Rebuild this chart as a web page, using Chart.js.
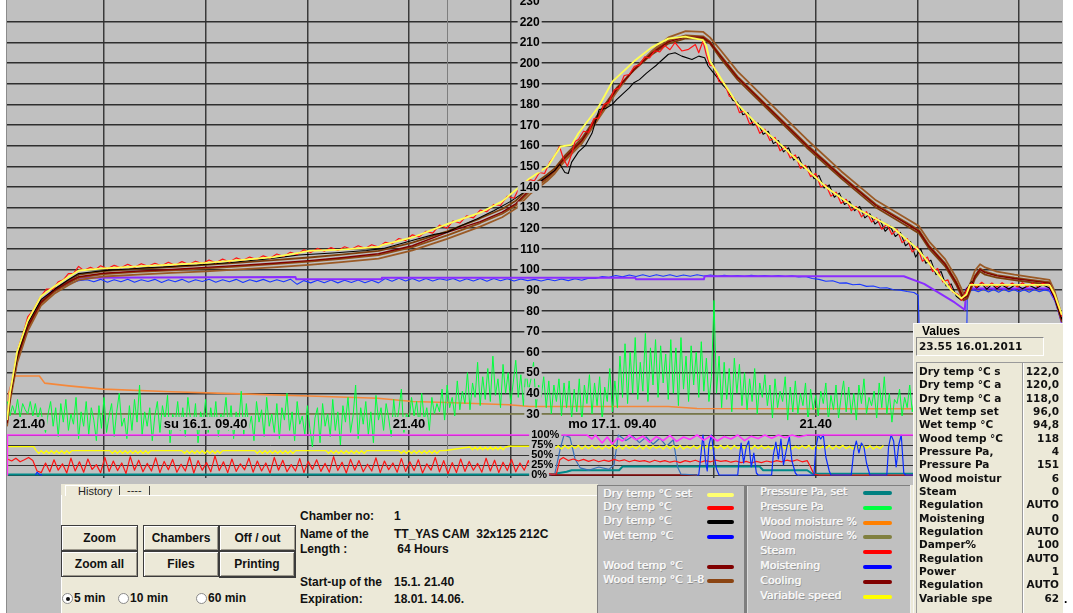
<!DOCTYPE html>
<html>
<head>
<meta charset="utf-8">
<title>Chamber 1 – drying history</title>
<script src="https://cdn.jsdelivr.net/npm/chart.js@4.4.1/dist/chart.umd.min.js"></script>
<style>
html,body{margin:0;padding:0}
body{width:1073px;height:613px;overflow:hidden;background:#fff;position:relative;font-family:"Liberation Sans",Arial,sans-serif;color:#000}
.abs{position:absolute;white-space:nowrap}
#frame{left:6px;top:0;width:1057px;height:613px;background:#c0c0c0;border-left:1px solid #8c8c8c;box-sizing:border-box}
#plot{position:absolute;left:7px;top:0}
#ctrl{left:61px;top:484px;width:537px;height:129px;background:#ece9d8}
.tabtxt{font:11px "Liberation Sans",Arial,sans-serif;line-height:12px;color:#222}
.btn{box-sizing:border-box;border:1px solid #3c3c3c;background:#ece9d8;box-shadow:inset 1px 1px 0 #fff,inset -1px -1px 0 #9d998c;font:bold 12px "Liberation Sans",Arial,sans-serif;display:flex;align-items:center;justify-content:center;color:#111}
.info{font:bold 12px "Liberation Sans",Arial,sans-serif;line-height:14px;color:#111}
.radio{width:11px;height:11px;border-radius:50%;background:#fff;border:1px solid #8a8a8a;box-sizing:border-box}
.radio.on::after{content:"";position:absolute;left:2.5px;top:2.5px;width:4px;height:4px;border-radius:50%;background:#111}
#legend{left:597px;top:485px;width:314px;height:128px;background:#c0c0c0;border-top:1px solid #808080;border-left:1px solid #808080;box-sizing:border-box}
.lg{font:11px "DejaVu Sans",Verdana,sans-serif;line-height:14px;color:#f7f7f7;text-shadow:0.45px 0 0 #f7f7f7,1px 1px 0 #8e8e8e}
.sw{height:4px;border-radius:2px}
#values{left:913px;top:323px;width:150px;height:290px;background:#ece9d8;border-top:1px solid #f8f8f8;border-left:1px solid #f8f8f8;box-sizing:border-box}
.vt{font:bold 10.5px "DejaVu Sans",Verdana,sans-serif;line-height:13.33px;color:#111}
</style>
</head>
<body>
<div id="frame" class="abs"></div>
<canvas id="plot" width="1055" height="478"></canvas>

<div id="ctrl" class="abs"></div>
<div class="abs" style="left:65px;top:485px;width:53px;height:10px;border-top:1px solid #fff;border-left:1px solid #fff"></div>
<div class="abs tabtxt" style="left:78px;top:485px">History</div>
<div class="abs" style="left:119px;top:486px;width:1px;height:9px;background:#404040"></div>
<div class="abs tabtxt" style="left:127px;top:484px">----</div>
<div class="abs" style="left:149px;top:486px;width:1px;height:9px;background:#404040"></div>
<div class="abs" style="left:119px;top:495px;width:479px;height:1px;background:#fff"></div>
<div class="abs" style="left:61px;top:495px;width:1px;height:118px;background:#fff"></div>

<div class="abs btn" style="left:61px;top:525px;width:77px;height:26px">Zoom</div>
<div class="abs btn" style="left:61px;top:551px;width:77px;height:26px">Zoom all</div>
<div class="abs btn" style="left:143px;top:525px;width:76px;height:26px">Chambers</div>
<div class="abs btn" style="left:219px;top:525px;width:77px;height:26px">Off / out</div>
<div class="abs btn" style="left:143px;top:551px;width:76px;height:26px">Files</div>
<div class="abs btn" style="left:219px;top:551px;width:77px;height:27px;border-width:1px 2px 2px 1px">Printing</div>

<div class="abs radio on" style="left:62px;top:593px"></div>
<div class="abs info" style="left:74px;top:591px">5 min</div>
<div class="abs radio" style="left:118px;top:593px"></div>
<div class="abs info" style="left:130px;top:591px">10 min</div>
<div class="abs radio" style="left:196px;top:593px"></div>
<div class="abs info" style="left:208px;top:591px">60 min</div>

<div id="infoBox"></div>

<div id="legend" class="abs"></div>
<div class="abs" style="left:744px;top:486px;width:3px;height:127px;background:#7e7e7e"></div>
<div class="abs" style="left:747px;top:486px;width:1px;height:127px;background:#dcdcdc"></div>
<div class="abs" style="left:910px;top:485px;width:1px;height:128px;background:#f0f0f0"></div>
<div class="abs" style="left:911px;top:485px;width:2px;height:128px;background:#ece9d8"></div>
<div id="legendItems"></div>

<div id="values" class="abs"></div>
<div class="abs" style="left:922px;top:324px;font:bold 12px 'Liberation Sans',Arial,sans-serif;line-height:14px">Values</div>
<div class="abs" style="left:916px;top:337px;width:128px;height:19px;box-sizing:border-box;border:1px solid;border-color:#8a8a8a #fff #fff #8a8a8a"></div>
<div class="abs vt" style="left:919px;top:339px;line-height:14px" id="stamp"></div>
<div class="abs" style="left:916px;top:362px;width:106px;height:251px;box-sizing:border-box;border-top:1px solid #9a9a9a;border-left:1px solid #9a9a9a"></div>
<div class="abs" style="left:1022px;top:362px;width:41px;height:251px;box-sizing:border-box;border-top:1px solid #9a9a9a;border-left:1px solid #9a9a9a;box-shadow:inset 1px 0 0 #fff"></div>
<div class="abs vt" style="left:919px;top:365px" id="valLabels"></div>
<div class="abs vt" style="left:1000px;top:365px;width:59px;text-align:right" id="valNums"></div>
<div class="abs" style="left:1064px;top:592px;font:bold 12px 'Liberation Sans',Arial,sans-serif">.</div>

<script>
// ---- axes: hours since start-up (15.1. 21.40) -------------------------
const hourMin = 0.276, hourMax = 62.537;
const gridHours = [6, 12, 18, 24, 30, 36, 42, 48, 54, 60];
const axisHour = 30;
const cursorHour = 26.25;
const timeLabelHours = [0, 12, 24, 36, 48, 60];
const timeLabels = ['21.40', 'su 16.1. 09.40', '21.40', 'mo 17.1. 09.40', '21.40', 'tu 18.1. 09.40'];
const tempMin = -1.07, tempMax = 230.6;
const tempTicks = [30, 40, 50, 60, 70, 80, 90, 100, 110, 120, 130, 140, 150, 160, 170, 180, 190, 200, 210, 220, 230];
const pctMin = -7.5, pctMax = 1187.5;
const pctTicks = [0, 25, 50, 75, 100];

// ---- temperatures [hour, °C] -------------------------------------------
const dryTempSet = [[0.28,27],[0.45,40],[0.87,60],[1.49,75],[2.28,87],[3.11,92],[3.92,96.5],[4.52,99.5],[6,100.5],[8,101.5],[10,102.3],[12,103.2],[14,104.5],[16,106],[17.5,108],[18.1,109],[20,109.6],[22.2,110.9],[22.4,111.8],[24.2,115.5],[26.25,122],[28.2,127.5],[29.5,133],[30.3,138.5],[31.1,144],[32.2,150],[32.95,159.6],[33.6,160.4],[34.0,166],[35.2,179],[36.0,191],[37.3,201],[38.3,207.5],[39.3,211.9],[40.3,212.9],[41.35,211.2],[41.55,208.3],[41.76,201],[42.6,190],[43.4,180],[44.6,170],[46.0,160],[47.3,150],[48.6,140],[50.3,130],[52.6,120],[54.0,110],[55.0,100],[56.0,90],[56.6,86],[56.9,88],[57.1,92.5],[61.8,92.5],[62.1,88],[62.53,78]];

const dryTempA = [[0.28,27],[0.5,42],[0.9,61],[1.3,71],[1.5,77],[1.8,80],[2.2,86],[2.6,90.5],[3.0,90.5],[3.3,94],[3.6,95],[3.9,98],[4.2,98],[4.5,101.5],[4.8,99.5],[5.2,101],[5.5,100],[5.8,101.8],[6.2,100.3],[6.6,102],[7.0,100.8],[7.4,102.5],[7.8,101],[8.2,102.8],[8.6,101.5],[9.0,103],[9.4,101.8],[9.8,103.5],[10.2,102],[10.6,103.8],[11.0,102.4],[11.4,104],[11.8,102.8],[12.2,104.6],[12.6,103.2],[13.0,105],[13.4,103.6],[13.8,105.6],[14.2,104.4],[14.6,106],[15.0,104.8],[15.4,106.6],[15.8,105.4],[16.2,107.5],[16.6,106.3],[17.0,108.3],[17.4,107.2],[17.8,109.5],[18.2,108.2],[18.6,110.2],[19.0,108.8],[19.4,110.6],[19.8,109.2],[20.2,111],[20.6,109.8],[21.0,111.5],[21.4,110.2],[21.8,112],[22.2,110.8],[22.6,113.2],[23.0,112.5],[23.4,115],[23.8,114],[24.2,116.8],[24.6,115.8],[25.0,118.5],[25.4,117.6],[25.8,121.5],[26.25,120],[26.6,123.5],[27.0,122.5],[27.4,126],[27.8,125],[28.2,128.8],[28.6,128],[29.0,131.5],[29.4,131],[29.8,135.5],[30.2,134.5],[30.5,139.5],[30.8,138.5],[31.1,143.5],[31.4,143],[31.7,147],[32.0,146.5],[32.3,152],[32.6,155],[32.88,159.6],[33.1,154],[33.35,150],[33.6,156],[33.8,162],[34.0,163],[34.3,167],[34.6,166.5],[34.9,173],[35.2,173.5],[35.5,180],[35.8,181],[36.1,187],[36.4,188],[36.7,194],[37.0,194.5],[37.3,198.5],[37.6,199],[37.9,203],[38.2,202.5],[38.5,206],[38.8,205.5],[39.1,208.5],[39.4,206.5],[39.7,210],[40.1,205.9],[40.5,206.7],[40.9,209],[41.1,205],[41.35,210.7],[41.55,204],[41.76,199],[42.0,198.5],[42.3,191],[42.6,190.5],[42.9,184],[43.2,183],[43.5,176],[43.8,177],[44.1,170.5],[44.4,172],[44.7,166],[45.0,168],[45.3,162.5],[45.6,164],[45.9,157.5],[46.2,159.5],[46.5,154],[46.8,155.5],[47.1,149],[47.4,150.5],[47.7,145],[48.0,146.5],[48.3,140],[48.6,141],[48.9,135.5],[49.2,137.5],[49.5,132],[49.8,134],[50.1,128.5],[50.4,130.5],[50.7,125.5],[51.0,128],[51.3,123],[51.6,125],[51.9,119.5],[52.2,122],[52.5,117],[52.8,119.5],[53.1,113],[53.4,115],[53.7,108.5],[54.0,111],[54.3,104],[54.6,106],[54.9,99],[55.2,100.5],[55.5,94],[55.8,95],[56.1,89],[56.4,88],[56.6,85],[56.9,90],[57.2,93.5],[57.5,91.5],[57.8,93.8],[58.1,91.8],[58.4,93.5],[58.7,91.5],[59.0,93.6],[59.3,91.7],[59.6,93.4],[59.9,91.5],[60.2,93.6],[60.5,91.6],[60.8,93.4],[61.1,91.7],[61.4,93.3],[61.8,92],[62.1,87],[62.53,77]];

const dryTempB = [[0.28,27],[0.5,41],[0.9,59],[1.5,74],[2.3,85.5],[3.1,90.5],[3.9,95],[4.5,98],[5.5,99],[6.5,99.8],[7.5,100.2],[8.5,100.8],[9.5,101.2],[10.5,101.8],[11.5,102.2],[12.5,102.8],[13.5,103.4],[14.5,104.2],[15.5,105],[16.5,106],[17.5,107],[18.5,107.5],[19.5,108],[20.5,108.6],[21.5,109.2],[22.5,110.2],[23.5,112.5],[24.5,114.8],[25.5,117],[26.25,118],[27.0,121],[28.0,124.5],[29.0,128.5],[30.0,133],[30.8,137.5],[31.4,141.5],[31.8,143],[32.2,145.5],[32.6,148],[32.9,151],[33.2,147],[33.4,146.5],[33.6,152],[34.0,157],[34.4,160],[34.8,166],[35.22,177.5],[35.6,178],[36.0,180],[36.25,182.3],[36.6,185],[37.0,188],[37.27,190.5],[37.6,192],[38.0,195],[38.29,197],[38.6,199],[39.0,202],[39.31,204.3],[39.7,205],[40.1,203.4],[40.7,201.8],[41.1,203.4],[41.45,202.6],[41.65,198.6],[41.9,196],[42.2,193],[42.5,189.5],[42.8,187],[43.1,182],[43.4,181],[43.7,175],[44.0,176],[44.3,170],[44.6,171],[44.9,165.5],[45.2,167],[45.5,161],[45.8,162.5],[46.1,157],[46.4,159],[46.7,153],[47.0,154.5],[47.3,149],[47.6,150],[47.9,144],[48.2,145.5],[48.5,139.5],[48.8,141],[49.1,135],[49.4,137],[49.7,131.5],[50.0,133],[50.3,128.5],[50.6,130.5],[50.9,125],[51.2,127],[51.5,122],[51.8,124],[52.1,118.5],[52.4,121],[52.7,116],[53.0,118],[53.3,111.5],[53.6,113.5],[53.9,106],[54.2,110],[54.5,103],[54.8,104.5],[55.1,97.5],[55.4,99],[55.7,92],[56.0,93],[56.3,87],[56.6,85],[56.9,90.5],[57.2,94],[57.5,91],[57.8,93],[58.1,90.5],[58.4,92.8],[58.7,90.6],[59.0,92.5],[59.4,90.5],[59.8,92.7],[60.2,90.7],[60.6,92.4],[61.0,90.8],[61.4,92.6],[61.8,91],[62.1,86],[62.53,76]];

const wetTemp = [[0.28,27],[0.5,40],[0.9,59],[1.5,73],[2.3,84],[3.1,89.5],[3.9,93],[4.5,94.5],[5.0,95],[5.4,94],[5.8,95.2],[6.2,93.8],[6.6,95],[7.0,94],[7.4,95.3],[7.8,93.8],[8.2,95],[8.6,94.2],[9.0,95.2],[9.4,93.7],[9.8,95],[10.2,94],[10.6,95.2],[11.0,93.8],[11.4,95],[11.8,94.2],[12.2,95.3],[12.6,93.8],[13.0,95],[13.4,94],[13.8,95.2],[14.2,93.7],[14.6,95],[15.0,94.1],[15.4,95.2],[15.8,93.9],[16.2,95],[16.6,94],[17.0,95.3],[17.4,92.8],[17.8,94.6],[18.2,93.5],[18.6,94.8],[19.0,93.6],[19.4,94.9],[19.8,93.5],[20.2,94.8],[20.6,93.7],[21.0,94.9],[21.4,93.6],[21.8,94.8],[22.2,93.5],[22.6,95.6],[23.0,94.3],[23.4,95.7],[23.8,94.4],[24.2,95.6],[24.6,94.3],[25.0,95.6],[25.4,94.4],[25.8,95.5],[26.25,94.8],[26.6,95.6],[27.0,94.3],[27.4,95.5],[27.8,94.4],[28.2,95.6],[28.6,94.3],[29.0,95.6],[29.4,94.5],[29.8,95.5],[30.2,94.4],[30.6,95.4],[31.0,94.6],[31.4,95.2],[31.8,94.4],[32.2,95.3],[32.6,94.5],[33.0,95.4],[33.4,94.6],[33.8,95.5],[34.2,94.8],[34.6,95.8],[35.0,95.6],[35.4,96.6],[35.8,96.2],[36.2,97.1],[36.6,96.4],[37.0,97.3],[37.4,96.6],[37.8,97.4],[38.2,96.6],[38.6,97.4],[39.0,96.7],[39.4,97.4],[39.8,96.6],[40.2,97.3],[40.6,96.7],[41.0,97.4],[41.4,96.8],[41.8,97.3],[42.2,96.7],[42.6,97.2],[43.0,96.8],[43.4,97.1],[43.8,96.7],[44.2,97.2],[44.6,96.8],[45.0,97.1],[45.4,96.7],[45.8,97.0],[46.2,96.6],[46.6,96.9],[47.0,96.4],[47.4,96.6],[47.8,95.6],[48.2,95.2],[48.6,94.3],[49.0,94.5],[49.4,93.4],[49.8,93.5],[50.2,92.6],[50.6,92.8],[51.0,91.8],[51.4,92.0],[51.8,91.0],[52.2,91.1],[52.6,90.2],[53.0,90.0],[53.4,89.3],[53.8,88.8],[54.05,87.5],[54.15,60],[54.3,30],[56.85,30],[56.95,89],[57.3,90.2],[57.6,89.2],[57.9,90.4],[58.2,89.1],[58.5,90.3],[58.8,89.0],[59.1,90.4],[59.4,89.2],[59.7,90.3],[60.0,89.1],[60.3,90.2],[60.6,89.0],[60.9,90.3],[61.2,89.2],[61.5,90.1],[61.8,89.5],[62.1,85],[62.53,74]];

const wetTempSet = [[0.28,27],[0.45,40],[0.87,59],[1.49,74],[2.28,85],[3.11,90.5],[3.92,94.5],[4.52,96],[17.3,96.3],[17.35,95.2],[22.35,95.2],[22.4,96.0],[37.35,96.0],[37.4,95.2],[41.4,95.2],[41.45,96.7],[53.2,96.7],[54.4,93],[55.4,88],[56.2,84],[56.8,80.5],[56.9,90.8],[61.8,90.8],[62.2,84],[62.53,74]];

const woodTemp1 = [[0.28,25],[0.45,37],[0.87,56],[1.49,71],[2.28,83.5],[3.11,89.5],[3.92,93.5],[4.52,96],[6,97.8],[8,98.8],[10,99.6],[12,100.5],[14,101.5],[16,102.6],[18.1,103.8],[20,105.2],[22.2,107],[24.2,110.8],[26.25,116.5],[28.2,122.5],[29.5,127],[30.3,131],[31.14,138],[32.16,144],[32.6,147.5],[33.18,153.5],[34.2,162],[35.22,174.5],[36.25,187],[37.27,197],[38.29,205],[39.31,211],[40.33,213.5],[41.35,213],[41.76,210.5],[42.37,204],[43.39,193.5],[45.43,177],[47.48,160.5],[49.52,145.5],[51.56,131.5],[53.6,121.5],[54.1,119],[54.7,111.5],[55.64,103],[56.3,94],[56.72,86.5],[56.95,87.5],[57.4,97],[57.7,100.5],[58.0,99],[58.7,97.3],[59.73,96],[60.7,95],[61.8,93.8],[62.1,88],[62.53,76]];

const woodTemp2 = [[0.28,24],[0.45,36],[0.87,54.5],[1.49,70],[2.28,82.5],[3.11,88.5],[3.92,92.5],[4.52,95],[6,96.6],[8,97.5],[10,98.3],[12,99.1],[14,100],[16,101],[18.1,102.2],[20,103.6],[22.2,105.3],[24.2,109.3],[26.25,114.8],[28.2,120.8],[29.5,125.3],[30.3,129.5],[31.14,136.5],[32.16,143],[32.6,146.5],[33.18,152.5],[34.2,161],[35.22,173.5],[36.25,186],[37.27,197],[38.29,205.5],[39.31,212.5],[40.33,215.5],[41.35,215.2],[41.76,212.5],[42.37,206.5],[43.39,196],[45.43,179.5],[47.48,163],[49.52,147.5],[51.56,133.5],[53.6,123.5],[54.1,121],[54.7,113.5],[55.64,105],[56.3,96],[56.72,88.5],[56.95,89.5],[57.4,99.5],[57.7,102.5],[58.0,101],[58.7,99],[59.73,97.5],[60.7,96.3],[61.8,95],[62.1,89.5],[62.53,77.5]];

const woodTemp3 = [[0.28,26],[0.45,38.5],[0.87,57.5],[1.49,72.5],[2.28,84.5],[3.11,90.5],[3.92,94.8],[4.52,97.5],[6,99.2],[8,100.3],[10,101.2],[12,102.2],[14,103.3],[16,104.5],[18.1,105.8],[20,107.2],[22.2,109],[24.2,113],[26.25,118.5],[28.2,124.8],[29.5,129.3],[30.3,133.3],[31.14,140],[32.16,146],[32.6,149],[33.18,155],[34.2,163.5],[35.22,176],[36.25,188],[37.27,196.5],[38.29,204],[39.31,209.5],[40.33,212],[41.35,211.8],[41.76,209.5],[42.37,202.5],[43.39,192],[45.43,175.5],[47.48,159],[49.52,144],[51.56,130],[53.6,120],[54.1,117.5],[54.7,110],[55.64,101.5],[56.3,92.5],[56.72,85],[56.95,86],[57.4,95.5],[57.7,99],[58.0,97.5],[58.7,96],[59.73,94.8],[60.7,93.8],[61.8,92.6],[62.1,86.5],[62.53,74.5]];

const woodTemp = [[0.28,25.5],[0.45,37.5],[0.87,57],[1.49,72],[2.28,84],[3.11,90],[3.92,94],[4.52,96.5],[6,98.2],[8,99.2],[10,100],[12,101],[14,102],[16,103],[18.1,104.3],[20,105.7],[22.2,107.6],[24.2,111.5],[26.25,118],[28.2,123.2],[29.5,127.8],[30.3,131.8],[31.14,138.8],[32.16,144.8],[32.6,148],[33.18,154],[34.2,162.5],[35.22,175],[36.25,187.2],[37.27,196.8],[38.29,204.6],[39.31,210.3],[40.33,212.8],[41.35,212.5],[41.76,210],[42.37,203.5],[43.39,193],[45.43,176.5],[47.48,160],[49.52,145],[51.56,131],[53.6,121],[54.1,118.5],[54.7,111],[55.64,102.5],[56.3,93.5],[56.72,86],[56.95,87],[57.4,96.5],[57.7,100],[58.0,98.5],[58.7,96.9],[59.73,95.6],[60.7,94.6],[61.8,93.4],[62.1,87.5],[62.53,75.5]];

// ---- moisture and pressure, drawn on the temperature scale ------------
const woodMoisture = [[0.28,27],[0.37,40],[0.67,48.4],[2.19,48.4],[2.5,44.9],[3.92,43.6],[5.94,42],[10,40.7],[14.06,39.7],[18.1,38.7],[22.17,37.6],[24.2,36],[26.22,35.5],[29.88,34.4],[31.14,33.6],[39.3,33.6],[41,32.6],[53.6,32.5],[56,33.2],[62.53,33]];
const woodMoisture2 = [[0.28,30],[62.53,30]];

// pressure logged every 0.15 h from 0.3 h
const pressureStart = 0.3, pressureStep = 0.15;
const pressure = [
  36,29,34,30,37,28,35,32,30,36, 29,35,27,33,26,21,30,36,24,33,
  19,35,26,37,22,30,25,38,18,31, 24,36,20,33,27,17,34,23,38,21,
  29,35,19,31,40,24,28,18,34,22, 37,26,44,20,31,24,33,17,29,36,
  21,34,27,39,16,30,25,36,22,33, 19,38,28,23,35,16,31,26,37,21,
  33,24,36,19,30,27,38,22,34,18, 31,25,41,20,35,23,29,17,36,26,
  32,19,38,24,30,21,35,18,33,27, 40,22,31,17,36,25,29,20,34,23,
  14,28,33,16,35,24,30,19,37,22, 31,15,34,26,38,21,29,44,18,33,
  25,36,20,31,16,39,27,33,22,35, 28,19,37,24,32,42,21,30,26,38,
  29,36,24,40,27,33,22,38,30,35, 31,42,27,44,33,38,29,46,32,41,
  35,50,32,45,38,55,34,48,37,52, 36,58,39,47,33,54,40,50,35,45,
  56,38,49,34,52,41,47,55,33,44, 38,48,33,46,30,44,36,47,29,45,
  33,46,28,42,31,47,26,44,35,49, 30,45,34,48,27,43,36,52,31,46,
  33,58,38,64,35,60,40,67,37,55, 41,69,36,62,44,66,38,63,45,59,
  37,66,40,62,34,67,42,58,36,63, 44,60,38,65,41,57,36,48,85,40,
  58,33,55,37,52,31,57,40,54,34, 50,32,47,36,52,30,45,38,49,34,
  44,28,47,33,41,36,48,27,43,31, 46,30,40,34,45,26,42,32,39,29,
  41,35,45,27,39,32,44,28,38,46, 31,43,30,40,27,44,35,47,30,38,
  34,41,28,45,33,48,30,40,26,37, 35,42,29,38,33,44,31,39,27,41];

// ---- actuator channels [hour, %] --------------------------------------
const pressureSet = [[0.28,1],[32.1,1],[32.6,3],[33.3,8],[33.6,12],[36.4,12],[36.6,21],[44.7,21],[44.9,12],[47.5,12],[47.8,3],[54.5,3]];
const cooling = [[32.1,0],[41.0,0]];
const auxChannel = [[32.2,0],[32.6,2],[32.95,70],[33.15,100],[33.5,94],[33.8,40],[34.1,18],[34.6,12],[35.2,20],[35.8,14],[36.1,25],[36.35,100],[36.8,86],[37.2,97],[37.6,81],[38.0,95],[38.4,77],[38.8,92],[39.2,72],[39.6,88],[39.85,20],[40.05,2],[41.0,0]];

// steam, logged every 0.25 h from 0.3 h, then the later run
const steamStart = 0.3, steamStep = 0.25;
const steamEarly = [
  40,35,42,33,38,44,36,10,6,30, 8,38,12,28,5,42,10,33,7,40,
  14,26,6,44,9,35,11,30,4,46, 12,37,8,29,10,43,6,34,13,39,
  7,27,10,45,5,36,12,31,8,48, 11,33,6,40,9,28,13,42,7,35,
  10,30,5,44,12,37,8,26,10,41, 6,34,14,38,9,29,7,46,11,32,
  5,39,12,36,8,27,10,43,6,35, 13,30,7,41,9,33,11,38,5,28,
  12,44,8,36,3,31,6,40,9,34, 12,29,7,42,10,37,6,32,11,39,
  8,30,12,36,7,41,10,33];
const steamLate = [[32.1,5],[32.4,2],[32.7,3],[32.9,38],[33.1,44],[33.4,36],[33.7,40],[34.0,35],[34.3,39],[34.6,34],[34.9,38],[35.2,33],[35.5,37],[35.8,34],[36.1,39],[36.4,35],[36.7,38],[37.0,33],[37.3,37],[37.6,34],[37.9,36],[38.2,32],[38.5,37],[38.8,33],[39.1,36],[39.4,32],[39.7,35],[40.0,31],[40.3,36],[40.6,33],[40.9,37],[41.2,32],[41.5,36],[41.8,33],[42.1,37],[42.4,34],[42.7,36],[43.0,32],[43.3,35],[43.6,31],[43.9,34],[44.2,30],[44.5,34],[44.8,31],[45.1,35],[45.4,32],[45.7,36],[46.0,33],[46.3,37],[46.6,34],[46.9,38],[47.2,33],[47.5,36],[47.7,20],[47.9,2],[48.2,0],[54.5,0]];

const speedEarly = [[0.28,0],[0.3,71],[1.85,71],[2.0,61],
  [2.15,54],[2.3,61],[2.45,54],[2.6,61],[2.75,54],[2.9,61],[3.05,54],[3.2,61],[3.35,54],[3.5,61],[3.65,54],[3.8,61],[3.95,54],[4.1,61],
  [6.35,61],[6.5,54],[6.65,61],[6.8,54],[6.95,61],[7.1,54],[7.25,61],[7.4,54],[7.55,61],[7.7,54],[7.85,61],[8.0,54],[8.15,61],[8.3,54],[8.45,61],[8.6,54],[8.75,61],
  [10.6,61],[10.75,54],[10.9,61],[11.05,54],[11.2,61],[11.35,54],[11.5,61],[11.65,54],[11.8,61],[11.95,54],[12.1,61],[12.25,54],[12.4,61],[12.55,54],[12.7,61],[12.85,54],[13.0,61],
  [14.9,61],[15.05,54],[15.2,61],[15.35,54],[15.5,61],[15.65,54],[15.8,61],[15.95,54],[16.1,61],[16.25,54],[16.4,61],[16.55,54],[16.7,61],[16.85,54],[17.0,61],[17.15,54],[17.3,61],
  [19.1,61],[19.25,54],[19.4,61],[19.55,54],[19.7,61],[19.85,54],[20.0,61],[20.15,54],[20.3,61],[20.45,54],[20.6,61],[20.75,54],[20.9,61],[21.05,54],[21.2,61],[21.35,54],[21.5,61],
  [23.4,61],[23.55,54],[23.7,61],[23.85,54],[24.0,61],[24.15,54],[24.3,61],[24.45,54],[24.6,61],[24.75,54],[24.9,61],[25.05,54],[25.2,61],[25.35,54],[25.5,61],[25.65,54],[25.8,61],
  [26.0,61],[26.25,62],[27.6,70],[27.75,63],[27.9,70],[28.05,63],[28.2,70],[28.35,63],[28.5,70],[28.65,63],[28.8,70],[28.95,63],[29.1,70],[29.25,63],[29.4,70],[29.55,63],[29.7,70],[29.9,72],[32.0,72]];

// variable speed, logged every 0.2 h from 32 h
const speedStart = 32.0, speedStep = 0.2;
const speedLate = [
  72,72,72,66,73,65,74,66,73,67, 74,65,73,66,74,66,72,65,73,67,
  74,66,73,65,74,67,72,66,73,65, 74,66,73,67,72,65,74,66,73,66,
  74,65,72,67,73,66,74,65,73,66, 72,67,74,66,73,65,74,66,72,67,
  73,65,74,66,73,66,72,65,74,67, 73,66,74,65,72,66,73,67,74,65,
  73,66,72,66,74,65,73,67,74,66, 72,65,73,66,74,67,73,65,72,66,
  74];

const moistening = [[1.95,0],[2.05,7],[2.2,1],[2.35,0],[2.4,null],[41.0,0],[41.1,0],[41.25,60],[41.35,100],[41.5,35],[41.6,10],[41.7,75],[41.85,100],[42.0,50],[42.15,15],[42.3,0],[43.4,0],[43.5,45],[43.6,80],[43.75,30],[43.9,70],[44.05,85],[44.2,20],[44.35,55],[44.5,5],[44.6,0],[45.4,0],[45.5,50],[45.65,82],[45.8,40],[45.95,90],[46.1,25],[46.3,70],[46.45,95],[46.6,35],[46.8,5],[46.9,0],[47.9,0],[48.0,65],[48.15,100],[48.3,90],[48.45,100],[48.6,45],[48.8,10],[48.9,0],[50.1,0],[50.25,60],[50.4,85],[50.55,55],[50.7,80],[50.85,70],[51.0,30],[51.2,0],[52.2,0],[52.3,70],[52.45,100],[52.6,85],[52.75,20],[52.9,75],[53.05,100],[53.2,5],[53.3,0],[54.5,0]];

const damper = [[0.28,0],[0.3,100],[34.5,100],[34.8,90],[35.0,100],[35.4,80],[35.7,95],[36.0,78],[36.3,92],[36.6,85],[37.0,100],[37.4,88],[37.8,97],[38.2,82],[38.6,96],[39.0,86],[39.4,99],[39.8,84],[40.2,95],[40.6,89],[41.0,100],[41.4,87],[41.8,98],[42.2,85],[42.6,96],[43.0,90],[43.4,100],[43.8,86],[44.2,97],[44.6,91],[45.0,100],[45.4,92],[45.8,100],[46.2,93],[46.6,100],[47.0,95],[47.5,100],[54.5,100]];

// ---- side panels -------------------------------------------------------
const infoLabels = ['Chamber no:', 'Name of the', 'Length :', 'Start-up of the', 'Expiration:'];
const infoValues = ['1', 'TT_YAS CAM  32x125 212C', ' 64 Hours', '15.1. 21.40', '18.01. 14.06.'];
const legendLeft = ['Dry temp °C set', 'Dry temp °C', 'Dry temp °C', 'Wet temp °C', '', 'Wood temp °C', 'Wood temp °C 1-8'];
const legendRight = ['Pressure Pa, set', 'Pressure Pa', 'Wood moisture %', 'Wood moisture %', 'Steam', 'Moistening', 'Cooling', 'Variable speed'];
const cursorStamp = '23.55 16.01.2011';
const readingNames = ['Dry temp °C s', 'Dry temp °C a', 'Dry temp °C a', 'Wet temp set', 'Wet temp °C', 'Wood temp °C', 'Pressure Pa,', 'Pressure Pa', 'Wood moistur', 'Steam', 'Regulation', 'Moistening', 'Regulation', 'Damper%', 'Regulation', 'Power', 'Regulation', 'Variable spe'];
const readingValues = ['122,0', '120,0', '118,0', '96,0', '94,8', '118', '4', '151', '6', '0', 'AUTO', '0', 'AUTO', '100', 'AUTO', '1', 'AUTO', '62'];

// ---- colours -----------------------------------------------------------
const C = {
  dryTempSet: '#ffff52', dryTempA: '#ff1414', dryTempB: '#000000', wetTemp: '#1a38ff', wetTempSet: '#8a2cff',
  woodTemp: '#800000', wood: ['#8f4c14', '#9a5a26', '#7c3f0c'], pressureSet: '#008a8a', pressure: '#00ff3c',
  woodMoist: '#f5883a', woodMoist2: '#8e8e58', steam: '#ff1414', moisten: '#0a2cff', cooling: '#800000',
  speed: '#ffff00', damper: '#ff33ff', aux: '#3a70b8'
};
const legendLeftColors = ['#ffff70', '#ff0000', '#000000', '#0000ff', null, '#800000', '#8b4513'];
const legendRightColors = ['#008080', '#00ff40', '#ff8000', '#808040', '#ff0000', '#0000ff', '#800000', '#ffff00'];

// ---- build panels ------------------------------------------------------
(function buildPanels() {
  const info = document.getElementById('infoBox');
  const infoTops = [509, 527, 542, 575, 592];
  infoLabels.forEach((t, i) => {
    info.insertAdjacentHTML('beforeend',
      `<div class="abs info" style="left:300px;top:${infoTops[i]}px">${t}</div>` +
      `<div class="abs info" style="left:394px;top:${infoTops[i]}px;white-space:pre">${infoValues[i]}</div>`);
  });
  const lg = document.getElementById('legendItems');
  const leftRows = [487, 500, 514, 529, 544, 559, 573];
  legendLeft.forEach((t, i) => {
    if (!t) return;
    lg.insertAdjacentHTML('beforeend',
      `<div class="abs lg" style="left:603px;top:${leftRows[i]}px">${t}</div>` +
      `<div class="abs sw" style="left:707px;top:${leftRows[i] + 6}px;width:27px;background:${legendLeftColors[i]}"></div>`);
  });
  legendRight.forEach((t, i) => {
    const top = 485 + i * 14.8;
    lg.insertAdjacentHTML('beforeend',
      `<div class="abs lg" style="left:760px;top:${top}px">${t}</div>` +
      `<div class="abs sw" style="left:863px;top:${top + 6}px;width:29px;background:${legendRightColors[i]}"></div>`);
  });
  document.getElementById('stamp').textContent = cursorStamp;
  document.getElementById('valLabels').innerHTML = readingNames.join('<br>');
  document.getElementById('valNums').innerHTML = readingValues.join('<br>');
})();

// ---- chart -------------------------------------------------------------
const pts = a => a.map(([x, y]) => ({x, y}));
const sampled = (t0, dt, vals) => vals.map((y, i) => ({x: +(t0 + i * dt).toFixed(3), y}));
const series = (data, color, width, axis) => ({
  data, borderColor: color, borderWidth: width, yAxisID: axis,
  pointRadius: 0, tension: 0, fill: false, borderJoinStyle: 'round', spanGaps: false
});

// listed from bottom to top
const layers = [
  series(pts(woodMoisture2), C.woodMoist2, 1.5, 'temp'),
  series(pts(woodMoisture), C.woodMoist, 1.6, 'temp'),
  series(sampled(pressureStart, pressureStep, pressure), C.pressure, 1, 'temp'),
  series(pts(pressureSet), C.pressureSet, 2, 'pct'),
  series(pts(cooling), C.cooling, 1.5, 'pct'),
  series(pts(auxChannel), C.aux, 1.2, 'pct'),
  series(sampled(steamStart, steamStep, steamEarly), C.steam, 1.2, 'pct'),
  series(pts(steamLate), C.steam, 1.2, 'pct'),
  series(pts(speedEarly), C.speed, 1.4, 'pct'),
  series(sampled(speedStart, speedStep, speedLate), C.speed, 1.4, 'pct'),
  series(pts(moistening), C.moisten, 1.2, 'pct'),
  series(pts(damper), C.damper, 1.6, 'pct'),
  series(pts(wetTemp), C.wetTemp, 1.1, 'temp'),
  series(pts(wetTempSet), C.wetTempSet, 2, 'temp'),
  series(pts(woodTemp1), C.wood[0], 1.8, 'temp'),
  series(pts(woodTemp2), C.wood[1], 1.8, 'temp'),
  series(pts(woodTemp3), C.wood[2], 1.8, 'temp'),
  series(pts(woodTemp), C.woodTemp, 1.4, 'temp'),
  series(pts(dryTempB), C.dryTempB, 1.1, 'temp'),
  series(pts(dryTempA), C.dryTempA, 1.2, 'temp'),
  series(pts(dryTempSet), C.dryTempSet, 1.8, 'temp')
];

const BG = '#c0c0c0';
function labelBox(ctx, text, x, y, align, h) {
  const w = ctx.measureText(text).width;
  const left = align === 'right' ? x - w : align === 'center' ? x - w / 2 : x;
  ctx.fillStyle = BG;
  ctx.fillRect(left - 2, y - h / 2, w + 4, h);
}

const overlay = {
  id: 'overlay',
  beforeDatasetsDraw(chart) {
    const {ctx, chartArea, scales: {x}} = chart;
    const cx = Math.round(x.getPixelForValue(cursorHour)) + 0.5;
    ctx.save();
    ctx.strokeStyle = '#7e7e7e';
    ctx.lineWidth = 1;
    ctx.beginPath();
    ctx.moveTo(cx, chartArea.top);
    ctx.lineTo(cx, chartArea.bottom);
    ctx.stroke();
    ctx.restore();
  },
  afterDatasetsDraw(chart) {
    const {ctx, chartArea, scales: {x, temp, pct}} = chart;
    const ax = x.getPixelForValue(axisHour);
    ctx.save();
    ctx.textBaseline = 'middle';

    // temperature labels beside the central axis
    ctx.font = 'bold 12px "Liberation Sans", Arial, sans-serif';
    temp.ticks.forEach(t => {
      const y = temp.getPixelForValue(t.value);
      const s = String(t.value);
      labelBox(ctx, s, ax + 29, y, 'right', 12);
      ctx.fillStyle = '#000';
      ctx.textAlign = 'right';
      ctx.fillText(s, ax + 29, y + 0.5);
    });

    // percent labels of the actuator strip
    ctx.font = 'bold 11px "Liberation Sans", Arial, sans-serif';
    pct.ticks.forEach(t => {
      const y = pct.getPixelForValue(t.value) - 1;
      labelBox(ctx, t.value + '%', ax + 20.5, y, 'left', 10);
    });
    pct.ticks.forEach(t => {
      const y = pct.getPixelForValue(t.value) - 1;
      ctx.fillStyle = '#000';
      ctx.textAlign = 'left';
      ctx.fillText(t.value + '%', ax + 20.5, y + 0.5);
    });

    // time labels in the band under the temperature grid
    ctx.font = 'bold 13px "Liberation Sans", Arial, sans-serif';
    timeLabelHours.forEach((h, i) => {
      const s = timeLabels[i];
      const y = 423.5;
      let px = x.getPixelForValue(h), align = 'center';
      if (px < chartArea.left + 20) { px = chartArea.left + 5.7; align = 'left'; }
      labelBox(ctx, s, px, y, align, 13);
      ctx.fillStyle = '#000';
      ctx.textAlign = align;
      ctx.fillText(s, px, y + 0.5);
    });
    ctx.restore();
  }
};

const ticksFrom = list => scale => { scale.ticks = list.map(v => ({value: v})); };

new Chart(document.getElementById('plot'), {
  type: 'line',
  data: {datasets: layers.slice().reverse()},
  options: {
    responsive: false,
    animation: false,
    devicePixelRatio: 1,
    events: [],
    layout: {padding: 0},
    plugins: {legend: {display: false}, tooltip: {enabled: false}},
    scales: {
      x: {
        type: 'linear', min: hourMin, max: hourMax,
        ticks: {display: false}, border: {display: false},
        grid: {color: '#3a3a3a', lineWidth: 1.5, drawTicks: false},
        afterBuildTicks: ticksFrom(gridHours)
      },
      temp: {
        type: 'linear', position: 'left', min: tempMin, max: tempMax,
        ticks: {display: false}, border: {display: false},
        grid: {drawTicks: false, lineWidth: 1.5, color: c => (c.tick && c.tick.value > 220) ? 'rgba(0,0,0,0)' : '#2e2e2e'},
        afterBuildTicks: ticksFrom(tempTicks)
      },
      pct: {
        type: 'linear', position: 'left', min: pctMin, max: pctMax,
        ticks: {display: false}, border: {display: false},
        grid: {drawTicks: false, lineWidth: 1, color: '#333333'},
        afterBuildTicks: ticksFrom(pctTicks)
      }
    }
  },
  plugins: [overlay]
});
</script>
</body>
</html>
